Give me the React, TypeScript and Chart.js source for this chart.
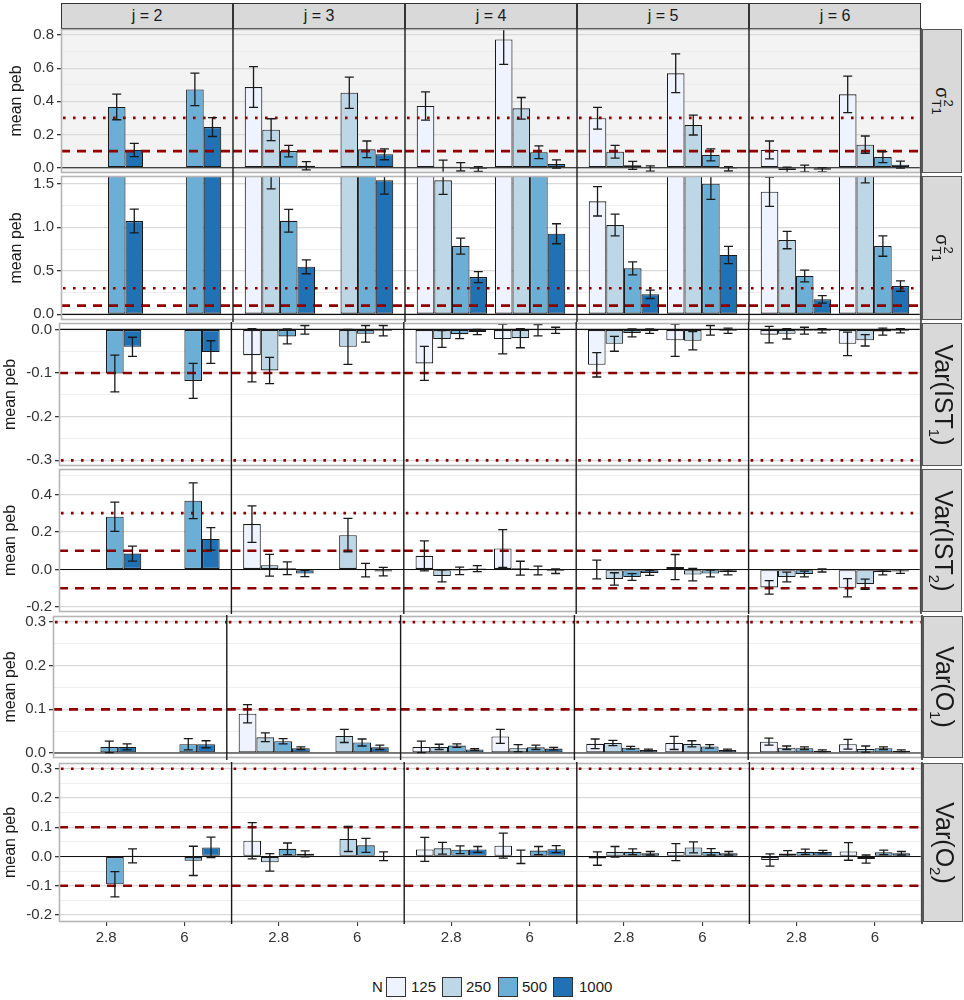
import { useEffect, useRef } from 'react'
import { Chart, registerables } from 'chart.js'

Chart.register(...registerables)

const FONT = '"Liberation Sans", Arial, sans-serif'
Chart.defaults.font.family = FONT

const columns = ['j = 2', 'j = 3', 'j = 4', 'j = 5', 'j = 6']
const xLevels = ['2.8', '6']
const sizes = ['125', '250', '500', '1000']
const blues = ['#eff3ff', '#bdd7e7', '#6baed6', '#2171b5']
const dashedRefs = [-0.1, 0.1]
const dottedRefs = [-0.3, 0.3]

// order of every array: j=2 (2.8, 6), j=3 (2.8, 6), j=4 ..., j=6
const sigA_125 = [null, null, 0.486, null, 0.372, 0.773, 0.298, 0.569, 0.107, 0.442]
const sigA_250 = [null, null, 0.229, 0.452, 0.006, 0.358, 0.096, 0.257, -0.014, 0.139]
const sigA_500 = [0.366, 0.472, 0.1, 0.111, 0.005, 0.093, 0.014, 0.077, -0.005, 0.064]
const sigA_1000 = [0.107, 0.245, 0.012, 0.081, -0.008, 0.022, -0.005, -0.007, -0.012, 0.018]
const sigA_e125 = [null, null, 0.123, null, 0.085, 0.15, 0.065, 0.117, 0.054, 0.11]
const sigA_e250 = [null, null, 0.066, 0.094, 0.04, 0.065, 0.038, 0.06, 0.018, 0.052]
const sigA_e500 = [0.077, 0.098, 0.035, 0.05, 0.025, 0.038, 0.024, 0.036, 0.02, 0.033]
const sigA_e1000 = [0.04, 0.057, 0.025, 0.033, 0.015, 0.025, 0.016, 0.013, 0.013, 0.021]

const sigB_125 = [null, null, 2.2, null, 2.6, 3.0, 1.297, 2.5, 1.407, 2.4]
const sigB_250 = [null, null, 1.64, 2.0, 1.538, 2.2, 1.025, 1.9, 0.853, 1.7]
const sigB_500 = [2.0, 2.3, 1.074, 1.9, 0.784, 1.85, 0.528, 1.499, 0.44, 0.784]
const sigB_1000 = [1.071, 1.9, 0.546, 1.538, 0.428, 0.925, 0.23, 0.681, 0.172, 0.325]
const sigB_e125 = [null, null, 0.3, null, 0.3, 0.35, 0.168, 0.3, 0.168, 0.3]
const sigB_e250 = [null, null, 0.2, 0.25, 0.16, 0.25, 0.125, 0.25, 0.1, 0.19]
const sigB_e500 = [0.25, 0.3, 0.13, 0.2, 0.092, 0.2, 0.075, 0.18, 0.067, 0.117]
const sigB_e1000 = [0.137, 0.2, 0.08, 0.157, 0.063, 0.115, 0.048, 0.1, 0.043, 0.06]

const ist1_125 = [null, null, -0.059, null, -0.078, -0.022, -0.081, -0.025, -0.012, -0.033]
const ist1_250 = [null, null, -0.094, -0.04, -0.022, -0.02, -0.033, -0.026, -0.01, -0.025]
const ist1_500 = [-0.101, -0.118, -0.016, -0.01, -0.011, -0.002, -0.008, -0.002, -0.003, -0.005]
const ist1_1000 = [-0.04, -0.052, -0.001, -0.003, -0.006, -0.002, -0.004, -0.003, -0.003, -0.003]
const ist1_e125 = [null, null, 0.061, null, 0.039, 0.034, 0.028, 0.037, 0.019, 0.027]
const ist1_e250 = [null, null, 0.03, 0.04, 0.019, 0.022, 0.017, 0.021, 0.012, 0.013]
const ist1_e500 = [0.042, 0.04, 0.017, 0.019, 0.01, 0.013, 0.009, 0.011, 0.008, 0.008]
const ist1_e1000 = [0.022, 0.026, 0.01, 0.012, 0.006, 0.007, 0.005, 0.006, 0.005, 0.005]

const ist2_125 = [null, null, 0.242, null, 0.073, 0.112, 0.0, 0.013, -0.095, -0.097]
const ist2_250 = [null, null, 0.023, 0.183, -0.034, 0.007, -0.05, -0.027, -0.04, -0.078]
const ist2_500 = [0.281, 0.366, 0.007, -0.003, -0.007, -0.005, -0.04, -0.021, -0.024, -0.015]
const ist2_1000 = [0.085, 0.163, -0.021, -0.011, 0.005, -0.009, -0.018, -0.015, -0.005, -0.01]
const ist2_e125 = [null, null, 0.097, null, 0.08, 0.1, 0.05, 0.067, 0.036, 0.049]
const ist2_e250 = [null, null, 0.058, 0.089, 0.032, 0.037, 0.033, 0.033, 0.026, 0.027]
const ist2_e500 = [0.078, 0.095, 0.034, 0.036, 0.02, 0.023, 0.018, 0.018, 0.015, 0.013]
const ist2_e1000 = [0.04, 0.06, 0.017, 0.023, 0.016, 0.012, 0.013, 0.013, 0.008, 0.01]

const o1_125 = [null, null, 0.09, null, 0.014, 0.038, 0.021, 0.023, 0.026, 0.02]
const o1_250 = [null, null, 0.036, 0.039, 0.014, 0.011, 0.023, 0.021, 0.012, 0.009]
const o1_500 = [0.014, 0.02, 0.027, 0.024, 0.017, 0.013, 0.012, 0.015, 0.011, 0.011]
const o1_1000 = [0.014, 0.02, 0.011, 0.013, 0.008, 0.01, 0.007, 0.007, 0.005, 0.005]
const o1_e125 = [null, null, 0.021, null, 0.013, 0.016, 0.011, 0.015, 0.008, 0.011]
const o1_e250 = [null, null, 0.01, 0.015, 0.006, 0.008, 0.006, 0.007, 0.004, 0.007]
const o1_e500 = [0.013, 0.013, 0.006, 0.008, 0.004, 0.005, 0.003, 0.004, 0.003, 0.003]
const o1_e1000 = [0.007, 0.008, 0.003, 0.005, 0.002, 0.003, 0.002, 0.002, 0.002, 0.002]

const o2_125 = [null, null, 0.054, null, 0.024, 0.037, -0.007, 0.015, -0.012, 0.017]
const o2_250 = [null, null, -0.02, 0.06, 0.028, -0.001, 0.016, 0.031, 0.01, -0.009]
const o2_500 = [-0.095, -0.015, 0.026, 0.038, 0.023, 0.02, 0.016, 0.016, 0.016, 0.014]
const o2_1000 = [0.002, 0.031, 0.009, 0.001, 0.024, 0.025, 0.011, 0.011, 0.015, 0.011]
const o2_e125 = [null, null, 0.062, null, 0.041, 0.043, 0.023, 0.029, 0.021, 0.03]
const o2_e250 = [null, null, 0.03, 0.043, 0.02, 0.023, 0.018, 0.019, 0.01, 0.014]
const o2_e500 = [0.043, 0.05, 0.02, 0.024, 0.013, 0.014, 0.01, 0.011, 0.009, 0.008]
const o2_e1000 = [0.024, 0.035, 0.01, 0.015, 0.01, 0.012, 0.006, 0.006, 0.006, 0.006]

type Val = number | null

interface RowSpec {
  strip: 'sigma' | 'ist1' | 'ist2' | 'o1' | 'o2'
  vals: Val[][]
  errs: Val[][]
  min: number
  max: number
  minor: number
  major: number
  top: number
  bottom: number
  left: number
  right: number
  bg: string
  titlePad: number
}

const rows: RowSpec[] = [
  { strip: 'sigma', vals: [sigA_125, sigA_250, sigA_500, sigA_1000], errs: [sigA_e125, sigA_e250, sigA_e500, sigA_e1000], min: -0.032, max: 0.836, minor: 0.1, major: 0.2, top: 29, bottom: 173, left: 61, right: 921, bg: '#f3f3f3', titlePad: 7 },
  { strip: 'sigma', vals: [sigB_125, sigB_250, sigB_500, sigB_1000], errs: [sigB_e125, sigB_e250, sigB_e500, sigB_e1000], min: -0.065, max: 1.588, minor: 0.25, major: 0.5, top: 176, bottom: 320, left: 61, right: 921, bg: '#ffffff', titlePad: 7 },
  { strip: 'ist1', vals: [ist1_125, ist1_250, ist1_500, ist1_1000], errs: [ist1_e125, ist1_e250, ist1_e500, ist1_e1000], min: -0.313, max: 0.0147, minor: 0.05, major: 0.1, top: 323, bottom: 466, left: 59, right: 921, bg: '#ffffff', titlePad: 1 },
  { strip: 'ist2', vals: [ist2_125, ist2_250, ist2_500, ist2_1000], errs: [ist2_e125, ist2_e250, ist2_e500, ist2_e1000], min: -0.226, max: 0.535, minor: 0.1, major: 0.2, top: 469, bottom: 612, left: 59, right: 921, bg: '#ffffff', titlePad: 1 },
  { strip: 'o1', vals: [o1_125, o1_250, o1_500, o1_1000], errs: [o1_e125, o1_e250, o1_e500, o1_e1000], min: -0.0115, max: 0.314, minor: 0.05, major: 0.1, top: 616, bottom: 758, left: 53, right: 922, bg: '#ffffff', titlePad: 1 },
  { strip: 'o2', vals: [o2_125, o2_250, o2_500, o2_1000], errs: [o2_e125, o2_e250, o2_e500, o2_e1000], min: -0.224, max: 0.3195, minor: 0.05, major: 0.1, top: 763, bottom: 922, left: 59, right: 922, bg: '#ffffff', titlePad: 1 },
]

// facet k, level l -> position on one shared linear axis (ggplot discrete expansion 0.6)
const xPos = (i: number) => 1 + (i % 2) + 2.2 * Math.floor(i / 2)
const panelEdge = (k: number) => [0.4 + 2.2 * k, 2.6 + 2.2 * k]
const CANVAS_W = 930
const PAD = 14
const XAXIS_H = 36

function isMajor(v: number, major: number) {
  return Math.abs(v / major - Math.round(v / major)) < 1e-6
}

function makeTicks(min: number, max: number, step: number) {
  const out: { value: number }[] = []
  for (let k = Math.ceil(min / step - 1e-9); k * step <= max + 1e-9; k++) {
    out.push({ value: Math.round(k * step * 1000) / 1000 })
  }
  return out
}

function panelPlugin(row: RowSpec) {
  return {
    id: 'panels',
    beforeDraw(chart: Chart) {
      const { ctx, chartArea: a } = chart
      ctx.save()
      ctx.fillStyle = row.bg
      ctx.fillRect(a.left, a.top, a.right - a.left, a.bottom - a.top)
      ctx.restore()
    },
    afterDatasetsDraw(chart: Chart) {
      const { ctx, chartArea: a } = chart
      const xs = chart.scales.x
      const ys = chart.scales.y
      ctx.save()
      ctx.beginPath()
      ctx.rect(a.left, a.top, a.right - a.left, a.bottom - a.top)
      ctx.clip()

      // zero line
      ctx.strokeStyle = '#111'
      ctx.lineWidth = 1.1
      const y0 = ys.getPixelForValue(0)
      ctx.beginPath()
      ctx.moveTo(a.left, y0)
      ctx.lineTo(a.right, y0)
      ctx.stroke()

      // reference lines, drawn per panel
      ctx.strokeStyle = '#8b0000'
      ctx.lineWidth = 2.6
      for (let k = 0; k < columns.length; k++) {
        const [e0, e1] = panelEdge(k)
        const x0 = xs.getPixelForValue(e0)
        const x1 = xs.getPixelForValue(e1)
        ctx.setLineDash([9, 7])
        dashedRefs.forEach((v) => {
          const py = ys.getPixelForValue(v)
          ctx.beginPath()
          ctx.moveTo(x0, py)
          ctx.lineTo(x1, py)
          ctx.stroke()
        })
        ctx.setLineDash([2.6, 7.4])
        dottedRefs.forEach((v) => {
          const py = ys.getPixelForValue(v)
          ctx.beginPath()
          ctx.moveTo(x0 + 2, py)
          ctx.lineTo(x1, py)
          ctx.stroke()
        })
      }
      ctx.setLineDash([])

      // error bars
      ctx.strokeStyle = '#1a1a1a'
      ctx.lineWidth = 1.3
      row.errs.forEach((errArr, s) => {
        const meta = chart.getDatasetMeta(s)
        meta.data.forEach((el: any, i: number) => {
          const v = row.vals[s][i]
          const e = errArr[i]
          if (v == null || e == null) return
          const cx = el.x
          const yt = ys.getPixelForValue(v + e)
          const yb = ys.getPixelForValue(v - e)
          ctx.beginPath()
          ctx.moveTo(cx, yt)
          ctx.lineTo(cx, yb)
          ctx.moveTo(cx - 4.5, yt)
          ctx.lineTo(cx + 4.5, yt)
          ctx.moveTo(cx - 4.5, yb)
          ctx.lineTo(cx + 4.5, yb)
          ctx.stroke()
        })
      })
      ctx.restore()

      // panel frame and facet dividers
      ctx.save()
      ctx.strokeStyle = '#b5b5b5'
      ctx.lineWidth = 1.6
      ctx.strokeRect(a.left + 0.5, a.top + 0.5, a.right - a.left - 1, a.bottom - a.top - 1)
      ctx.strokeStyle = '#1a1a1a'
      ctx.lineWidth = 1.4
      for (let k = 0; k < columns.length; k++) {
        const px = xs.getPixelForValue(panelEdge(k)[1])
        ctx.beginPath()
        ctx.moveTo(px, a.top - 1)
        ctx.lineTo(px, a.bottom + 2)
        ctx.stroke()
      }
      ctx.restore()
    },
  }
}

function RowChart({ row, last }: { row: RowSpec; last: boolean }) {
  const ref = useRef<HTMLCanvasElement>(null)
  const height = row.bottom - row.top + PAD + (last ? XAXIS_H : PAD)

  useEffect(() => {
    if (!ref.current) return
    const xTicks = row.vals[0].map((_, i) => ({ value: xPos(i) }))
    const chart = new Chart(ref.current, {
      type: 'bar',
      data: {
        datasets: sizes.map((n, s) => ({
          label: n,
          data: row.vals[s].map((v, i) => ({ x: xPos(i), y: v })),
          backgroundColor: blues[s],
          borderColor: '#1a1a1a',
          borderWidth: 1.1,
          borderSkipped: false,
          categoryPercentage: 0.9,
          barPercentage: 1,
          clip: 0,
        })) as any,
      },
      options: {
        responsive: false,
        animation: false,
        devicePixelRatio: 1,
        layout: { padding: { top: PAD, bottom: last ? 0 : PAD, left: 0, right: CANVAS_W - row.right } },
        plugins: { legend: { display: false }, tooltip: { enabled: false } },
        scales: {
          x: {
            type: 'linear',
            display: last,
            min: 0.4,
            max: 11.4,
            offset: false,
            afterBuildTicks: (scale: any) => {
              scale.ticks = xTicks.map((t) => ({ ...t }))
            },
            afterFit: (scale: any) => {
              scale.height = last ? XAXIS_H : 0
            },
            grid: { offset: false, drawOnChartArea: false, tickLength: 4, tickColor: '#333', lineWidth: 1.1 },
            border: { display: false },
            ticks: {
              autoSkip: false,
              maxRotation: 0,
              padding: 3,
              color: '#333',
              font: { size: 15 },
              callback: (_v: any, i: number) => xLevels[i % 2],
            },
          },
          y: {
            type: 'linear',
            min: row.min,
            max: row.max,
            afterBuildTicks: (scale: any) => {
              scale.ticks = makeTicks(row.min, row.max, row.minor)
            },
            afterFit: (scale: any) => {
              scale.width = row.left
            },
            grid: {
              color: (c: any) => (isMajor(c.tick.value, row.major) ? '#d9d9d9' : '#ebebeb'),
              lineWidth: (c: any) => (isMajor(c.tick.value, row.major) ? 1.3 : 0.8),
              tickColor: (c: any) => (isMajor(c.tick.value, row.major) ? '#333' : 'rgba(0,0,0,0)'),
              tickLength: 4,
            },
            border: { display: false },
            title: {
              display: true,
              text: 'mean peb',
              color: '#1a1a1a',
              font: { size: 16 },
              padding: { top: row.titlePad, bottom: 0 },
            },
            ticks: {
              autoSkip: false,
              padding: 3,
              color: '#333',
              font: { size: 15 },
              callback: (v: any) => {
                const n = Number(v)
                if (!isMajor(n, row.major)) return ''
                return Math.abs(n) < 1e-9 ? '0.0' : n.toFixed(1)
              },
            },
          },
        },
      },
      plugins: [panelPlugin(row)],
    })
    return () => chart.destroy()
  }, [row, last])

  return (
    <canvas
      ref={ref}
      width={CANVAS_W}
      height={height}
      style={{ position: 'absolute', left: 0, top: row.top - PAD, width: CANVAS_W, height }}
    />
  )
}

function StripLabel({ kind }: { kind: RowSpec['strip'] }) {
  if (kind === 'sigma') {
    return (
      <span style={{ fontSize: 18, whiteSpace: 'nowrap', display: 'inline-flex', alignItems: 'center' }}>
        σ
        <span style={{ display: 'inline-flex', flexDirection: 'column', fontSize: 13, lineHeight: '12px', marginLeft: 1 }}>
          <span>2</span>
          <span>T1</span>
        </span>
      </span>
    )
  }
  const base = kind === 'ist1' || kind === 'ist2' ? 'IST' : 'O'
  const sub = kind === 'ist1' || kind === 'o1' ? '1' : '2'
  return (
    <span style={{ fontSize: 25, whiteSpace: 'nowrap' }}>
      Var({base}
      <sub style={{ fontSize: 15 }}>{sub}</sub>)
    </span>
  )
}

export default function App() {
  const r0 = rows[0]
  const colW = (r0.right - r0.left) / columns.length
  const legendX = [386, 442, 498, 553]
  const legendTextX = [411, 466, 522, 579]

  return (
    <div
      style={{
        position: 'absolute',
        left: 0,
        top: 0,
        width: 964,
        height: 1000,
        background: '#fff',
        fontFamily: FONT,
        color: '#1a1a1a',
        overflow: 'hidden',
      }}
    >
      {columns.map((c, k) => (
        <div
          key={c}
          style={{
            position: 'absolute',
            left: r0.left + colW * k,
            top: 3,
            width: colW,
            height: 26,
            boxSizing: 'border-box',
            background: '#d9d9d9',
            border: '1px solid #333',
            display: 'flex',
            alignItems: 'center',
            justifyContent: 'center',
            fontSize: 16,
          }}
        >
          {c}
        </div>
      ))}

      {rows.map((row, r) => (
        <RowChart key={r} row={row} last={r === rows.length - 1} />
      ))}

      {rows.map((row, r) => (
        <div
          key={'s' + r}
          style={{
            position: 'absolute',
            left: row.right + 1,
            top: row.top,
            width: 40,
            height: row.bottom - row.top,
            boxSizing: 'border-box',
            background: '#d9d9d9',
            border: '1px solid #555',
            display: 'flex',
            alignItems: 'center',
            justifyContent: 'center',
            overflow: 'visible',
          }}
        >
          <div style={{ transform: 'rotate(90deg)', whiteSpace: 'nowrap' }}>
            <StripLabel kind={row.strip} />
          </div>
        </div>
      ))}

      <div style={{ position: 'absolute', left: 372, top: 977, fontSize: 15, lineHeight: '20px' }}>N</div>
      {sizes.map((n, s) => (
        <div key={n}>
          <div
            style={{
              position: 'absolute',
              left: legendX[s],
              top: 977,
              width: 20,
              height: 20,
              boxSizing: 'border-box',
              background: blues[s],
              border: '1px solid #333',
            }}
          />
          <div style={{ position: 'absolute', left: legendTextX[s], top: 977, fontSize: 15, lineHeight: '20px' }}>{n}</div>
        </div>
      ))}
    </div>
  )
}
